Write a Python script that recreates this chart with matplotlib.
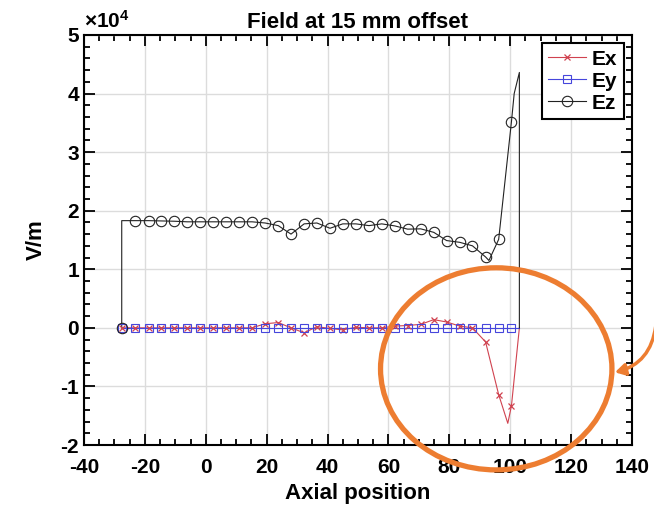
import numpy as np
import matplotlib.pyplot as plt
from matplotlib.lines import Line2D
from matplotlib.patches import Ellipse
from matplotlib.ticker import MultipleLocator, FuncFormatter

plt.rcParams['font.family'] = ['Liberation Sans', 'DejaVu Sans']
plt.rcParams['font.weight'] = 'bold'
plt.rcParams['mathtext.default'] = 'regular'
plt.rcParams['axes.unicode_minus'] = False

# marker positions along the axis
pos = np.array([-27.6, -23.1, -18.8, -14.6, -10.3, -6.1, -1.8, 2.5, 6.7, 11.0,
                15.2, 19.5, 23.8, 28.0, 32.3, 36.5, 40.8, 45.0, 49.3, 53.6,
                57.8, 62.1, 66.3, 70.6, 74.9, 79.1, 83.4, 87.6, 91.9, 96.2, 100.4])

# field values at the markers (V/m)
ex = np.array([0, 0, 0, 0, 0, 0, 0, 0, 0, 0,
               0, 700, 900, 0, -850, 200, -100, -350, 100, 0,
               0, 300, 400, 600, 1400, 1000, 300, 0, -2400, -11400, -13300])
ey = np.zeros(len(pos))
ez = np.array([0, 18300, 18300, 18250, 18200, 18100, 18100, 18100, 18100, 18100,
               18100, 17900, 17450, 16000, 17750, 17900, 17000, 17750, 17750, 17450,
               17750, 17400, 16850, 16900, 16300, 14900, 14600, 14000, 12100, 15100, 35200])

# extra points of the curves between / beyond the markers
ex_line_x = np.concatenate([pos[:30], [99.2], pos[30:], [103.0]])
ex_line_y = np.concatenate([ex[:30], [-16300], ex[30:], [0]])
ey_line_x = np.concatenate([pos, [103.0]])
ey_line_y = np.concatenate([ey, [0]])
ez_line_x = np.concatenate([pos[:1], pos[:29], [93.0], pos[29:], [101.3, 103.0, 103.0]])
ez_line_y = np.concatenate([ez[:1], [18300], ez[1:29], [11500], ez[29:], [40000, 43600, 0]])

c_ex = '#d0424f'
c_ey = '#4646dc'
c_ez = '#222222'

fig = plt.figure(figsize=(6.54, 5.05), dpi=100)
ax = fig.add_axes([0.1284, 0.1188, 0.838, 0.812])

ax.plot(ex_line_x, ex_line_y, color=c_ex, lw=0.8, zorder=3)
ax.plot(pos, ex, ls='none', marker='x', ms=5, mew=0.9, color=c_ex, zorder=4)
ax.plot(ey_line_x, ey_line_y, color=c_ey, lw=0.8, zorder=3)
ax.plot(pos, ey, ls='none', marker='s', ms=6, mew=0.8, mfc='none', mec=c_ey, zorder=4)
ax.plot(ez_line_x, ez_line_y, color=c_ez, lw=0.8, zorder=3)
ax.plot(pos, ez, ls='none', marker='o', ms=7.5, mew=0.8, mfc='none', mec=c_ez, zorder=4)

ax.set_xlim(-40, 140)
ax.set_ylim(-20000, 50000)
ax.xaxis.set_major_locator(MultipleLocator(20))
ax.xaxis.set_minor_locator(MultipleLocator(5))
ax.yaxis.set_major_locator(MultipleLocator(10000))
ax.yaxis.set_minor_locator(MultipleLocator(2000))
ax.yaxis.set_major_formatter(FuncFormatter(lambda v, _: f'{v / 1e4:g}'))
ax.tick_params(which='both', direction='in', top=True, right=True, width=1.3, labelsize=15)
ax.tick_params(which='major', length=8)
ax.tick_params(which='minor', length=4.5)
ax.tick_params(axis='x', pad=9)
ax.grid(True, which='major', color='#dcdcdc', lw=1)
ax.set_axisbelow(True)
for s in ax.spines.values():
    s.set_linewidth(1.5)

ax.set_title('Field at 15 mm offset', fontsize=16, fontweight='bold', pad=5)
ax.set_xlabel('Axial position', fontsize=16, fontweight='bold', labelpad=5)
ax.set_ylabel('V/m', fontsize=16, fontweight='bold', labelpad=10)
ax.text(0, 1.008, '×10$^{4}$', transform=ax.transAxes, fontsize=15, ha='left', va='bottom')

handles = [Line2D([], [], color=c_ex, lw=0.8, marker='x', ms=5, mew=0.9),
           Line2D([], [], color=c_ey, lw=0.8, marker='s', ms=6, mfc='none', mew=0.8),
           Line2D([], [], color=c_ez, lw=0.8, marker='o', ms=7.5, mfc='none', mew=0.8)]
leg = ax.legend(handles, ['Ex', 'Ey', 'Ez'], loc='upper right', fontsize=15,
                fancybox=False, framealpha=1, edgecolor='black', handlelength=1.8,
                labelspacing=0.15, borderpad=0.3, handletextpad=0.3, borderaxespad=0.4)
leg.get_frame().set_linewidth(1.5)

# orange highlight ring and arrow
ax.add_patch(Ellipse((95.4, -7000), 76, 34500, fill=False, ec='#ed7d31', lw=3.8,
                     clip_on=False, zorder=6))
ax.annotate('', xy=(133.5, -7700), xytext=(147.8, 300), xycoords='data',
            annotation_clip=False, zorder=6,
            arrowprops=dict(arrowstyle='-|>,head_length=0.6,head_width=0.35', color='#ed7d31',
                            lw=2.5, shrinkA=0, connectionstyle='arc3,rad=-0.35'))

fig.savefig('out.png', dpi=100)
